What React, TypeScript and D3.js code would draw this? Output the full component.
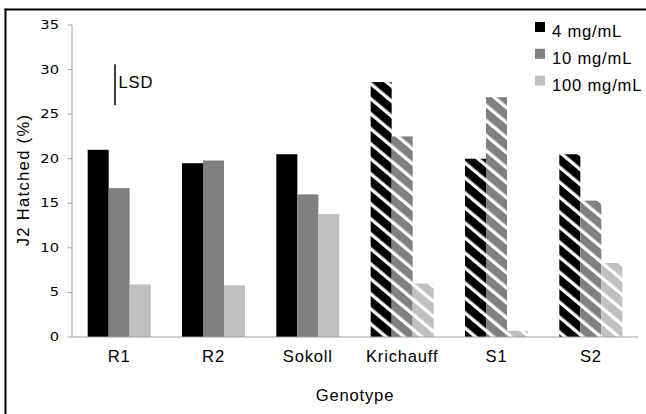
import React from "react";
import * as d3 from "d3";

// Genotypes and hatch percentages per concentration
const categories = ["R1", "R2", "Sokoll", "Krichauff", "S1", "S2"];
const conc4 = [21.0, 19.5, 20.5, 28.6, 20.0, 20.5];
const conc10 = [16.7, 19.8, 16.0, 22.5, 26.9, 15.3];
const conc100 = [5.9, 5.8, 13.8, 6.0, 0.7, 8.3];
const hatchedGenotypes = ["Krichauff", "S1", "S2"];
const seriesNames = ["4 mg/mL", "10 mg/mL", "100 mg/mL"];
const seriesColors = ["#000000", "#808080", "#c0c0c0"];
const yTicks = [0, 5, 10, 15, 20, 25, 30, 35];
const lsdBase = 26.0;
const lsdValue = 4.6;

const W = 646;
const H = 414;
const FONT = "'Liberation Sans', Arial, sans-serif";
const FS = 16.6;
const LS = 0.8;

export default function App() {
  const y = d3.scaleLinear().domain([0, 35]).range([337, 25]);
  const x = d3
    .scaleBand<string>()
    .domain(categories)
    .range([72, 638])
    .paddingInner(0.332)
    .paddingOuter(0.166);
  const xs = d3.scaleBand<string>().domain(seriesNames).range([0, x.bandwidth()]);
  const series = [conc4, conc10, conc100];

  return (
    <svg
      width={W}
      height={H}
      style={{ position: "absolute", left: 0, top: 0, background: "#fff" }}
    >
      <defs>
        {seriesColors.map((c, i) => (
          <pattern
            key={c}
            id={`hatch${i}`}
            patternUnits="userSpaceOnUse"
            width={40}
            height={11.5}
            patternTransform="rotate(40)"
          >
            <rect width={40} height={11.5} fill={c} />
            <rect y={8.2} width={40} height={3.3} fill="#ffffff" />
          </pattern>
        ))}
      </defs>

      {/* outer frame: only the left and top edges fall inside the view */}
      <line x1={5.5} x2={5.5} y1={8.5} y2={H} stroke="#000" strokeWidth={2} />
      <line x1={4.5} x2={W} y1={9.5} y2={9.5} stroke="#000" strokeWidth={2} />

      {/* y axis */}
      <line x1={72} x2={72} y1={y(35)} y2={y(0)} stroke="#a0a0a0" strokeWidth={1} />
      {yTicks.map((t) => (
        <g key={t}>
          <line x1={67.5} x2={72} y1={y(t)} y2={y(t)} stroke="#a0a0a0" />
          <text
            transform={`translate(59, ${y(t)}) scale(1.28, 1)`}
            dy="0.35em"
            textAnchor="end"
            fontFamily="'DejaVu Sans', Verdana, sans-serif"
            fontSize={11.5}
            fill="#000"
          >
            {t}
          </text>
        </g>
      ))}

      {/* bars */}
      {categories.map((cat, ci) => (
        <g key={cat}>
          {series.map((vals, si) => {
            const x0 = (x(cat) ?? 0) + (xs(seriesNames[si]) ?? 0);
            const hatched = hatchedGenotypes.includes(cat);
            return (
              <rect
                key={si}
                x={x0}
                y={y(vals[ci])}
                width={xs.bandwidth()}
                height={y(0) - y(vals[ci])}
                fill={hatched ? `url(#hatch${si})` : seriesColors[si]}
              />
            );
          })}
          <text
            x={(x(cat) ?? 0) + x.bandwidth() / 2}
            y={362}
            textAnchor="middle"
            fontFamily={FONT}
            fontSize={FS}
            letterSpacing={LS}
            fill="#000"
          >
            {cat}
          </text>
        </g>
      ))}

      {/* x axis */}
      <line x1={72} x2={638} y1={y(0)} y2={y(0)} stroke="#a0a0a0" strokeWidth={1} />

      {/* LSD bar */}
      <line x1={115} x2={115} y1={y(lsdBase + lsdValue)} y2={y(lsdBase)} stroke="#000" strokeWidth={1.5} />
      <text x={118.5} y={87.5} fontFamily={FONT} fontSize={FS} letterSpacing={LS} fill="#000">
        LSD
      </text>

      {/* legend */}
      {seriesNames.map((n, i) => (
        <g key={n} transform={`translate(535, ${22 + i * 26.8})`}>
          <rect width={10} height={10} fill={seriesColors[i]} />
          <text x={17} y={15} fontFamily={FONT} fontSize={FS} letterSpacing={LS} fill="#000">
            {n}
          </text>
        </g>
      ))}

      {/* axis titles */}
      <text
        x={355}
        y={401}
        textAnchor="middle"
        fontFamily={FONT}
        fontSize={FS}
        letterSpacing={LS}
        fill="#000"
      >
        Genotype
      </text>
      <text
        transform={`translate(29, ${180}) rotate(-90)`}
        textAnchor="middle"
        fontFamily={FONT}
        fontSize={FS}
        letterSpacing={1.3}
        fill="#000"
      >
        J2 Hatched (%)
      </text>
    </svg>
  );
}
